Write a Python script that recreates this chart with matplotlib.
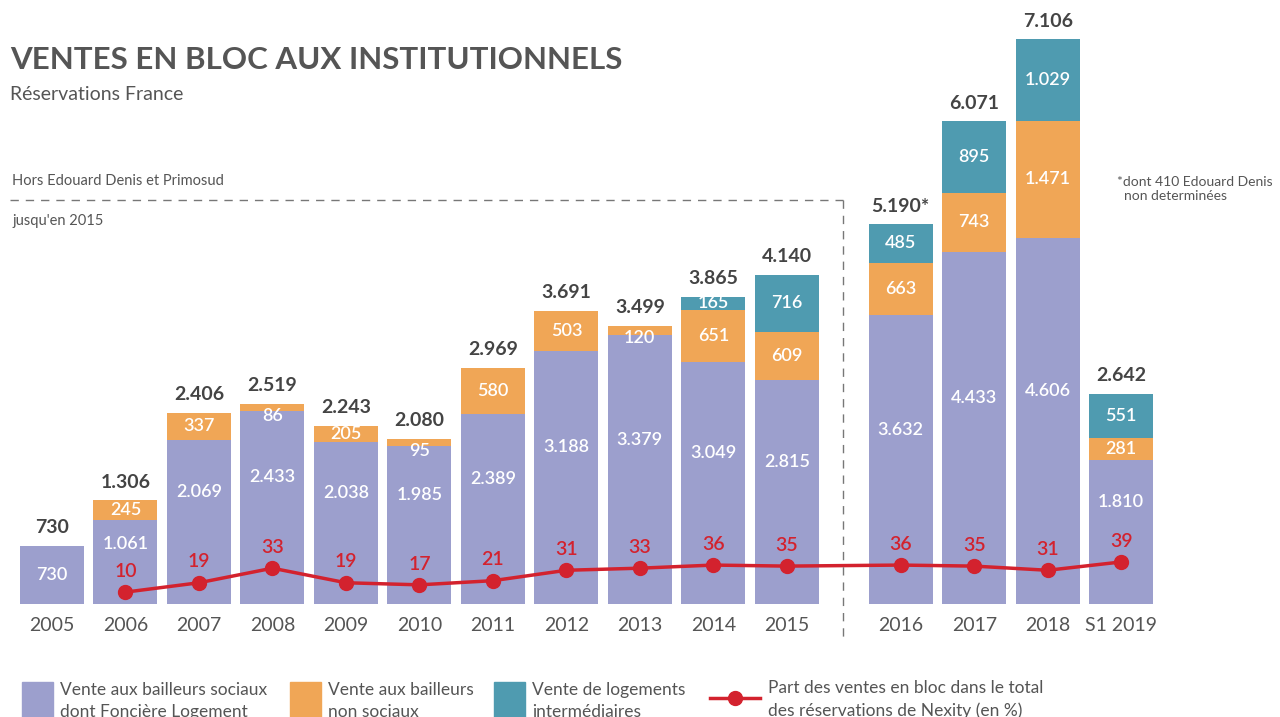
import numpy as np
import matplotlib.pyplot as plt
from matplotlib.patches import Rectangle
from matplotlib.lines import Line2D

# données
annees = ['2005', '2006', '2007', '2008', '2009', '2010', '2011', '2012', '2013',
          '2014', '2015', '2016', '2017', '2018', 'S1 2019']
sociaux = [730, 1061, 2069, 2433, 2038, 1985, 2389, 3188, 3379, 3049, 2815, 3632, 4433, 4606, 1810]
non_sociaux = [0, 245, 337, 86, 205, 95, 580, 503, 120, 651, 609, 663, 743, 1471, 281]
intermediaires = [0, 0, 0, 0, 0, 0, 0, 0, 0, 165, 716, 485, 895, 1029, 551]
totaux = ['730', '1.306', '2.406', '2.519', '2.243', '2.080', '2.969', '3.691', '3.499',
          '3.865', '4.140', '5.190*', '6.071', '7.106', '2.642']
part_pct = [None, 10, 19, 33, 19, 17, 21, 31, 33, 36, 35, 36, 35, 31, 39]

VIOLET = '#9c9fcd'
ORANGE = '#f0a656'
TEAL = '#4f9bb0'
ROUGE = '#d3222e'
GRIS = '#555555'

plt.rcParams['font.family'] = ['Lato', 'DejaVu Sans']


def fmt(v):
    return f"{v:,}".replace(",", ".")


fig = plt.figure(figsize=(12.8, 7.17), dpi=100)
ax = fig.add_axes([0, 0, 1, 1])
ax.set_xlim(-0.707, 16.71)
ax.set_ylim(-1421, 7598)
ax.axis('off')

x = np.array(list(range(11)) + [11.55, 12.55, 13.55, 14.55])
w = 0.87
soc = np.array(sociaux)
nso = np.array(non_sociaux)
inter = np.array(intermediaires)

ax.bar(x, soc, w, color=VIOLET)
ax.bar(x, nso, w, bottom=soc, color=ORANGE)
ax.bar(x, inter, w, bottom=soc + nso, color=TEAL)

px = 12.58  # unités par pixel
for i in range(len(x)):
    # bailleurs sociaux
    if i == 0:
        yl = soc[i] / 2
    elif i == 1:
        yl = 60 * px
    else:
        yl = soc[i] / 2 + 30 * px
    ax.text(x[i], yl, fmt(soc[i]), color='white', ha='center', va='center',
            fontsize=13, fontweight='semibold')
    # non sociaux
    if nso[i] > 0:
        if nso[i] / px < 12:
            yl = soc[i] + nso[i] - 12 * px
        else:
            yl = soc[i] + nso[i] / 2
        ax.text(x[i], yl, fmt(nso[i]), color='white', ha='center', va='center',
                fontsize=13, fontweight='semibold')
    if inter[i] > 0:
        ax.text(x[i], soc[i] + nso[i] + inter[i] / 2, fmt(inter[i]), color='white',
                ha='center', va='center', fontsize=13, fontweight='semibold')
    top = soc[i] + nso[i] + inter[i]
    ax.text(x[i], top + 18 * px, totaux[i], color='#444444', ha='center', va='center',
            fontsize=14, fontweight='bold')
    ax.text(x[i], -21 * px, annees[i], color=GRIS, ha='center', va='center', fontsize=14)

# courbe part des ventes en bloc
ax2 = ax.twinx()
ax2.set_ylim(-110, 579)
ax2.axis('off')
xs = x[1:]
ys = np.array(part_pct[1:])
ax2.plot(xs, ys, color=ROUGE, lw=2.5, marker='o', markersize=10, zorder=5)
for xi, yi in zip(xs, ys):
    ax2.annotate(str(yi), (xi, yi), xytext=(0, 15), textcoords='offset points',
                 ha='center', va='center', color=ROUGE, fontsize=14, fontweight='semibold')

# cadre pointillé 2005-2015
fig.add_artist(Line2D([10 / 1280, 843 / 1280], [1 - 200 / 717, 1 - 200 / 717],
                      color='#777777', lw=1, ls=(0, (6, 5))))
fig.add_artist(Line2D([843 / 1280, 843 / 1280], [1 - 200 / 717, 1 - 640 / 717],
                      color='#777777', lw=1, ls=(0, (6, 5))))
fig.text(12 / 1280, 1 - 181 / 717, 'Hors Edouard Denis et Primosud', color=GRIS,
         fontsize=10.5, va='center')
fig.text(12 / 1280, 1 - 221 / 717, "jusqu'en 2015", color=GRIS, fontsize=10.5, va='center')
fig.text(1117 / 1280, 1 - 189 / 717, '*dont 410 Edouard Denis\n  non determinées',
         color=GRIS, fontsize=10, va='center', linespacing=1.15)

# titres
fig.text(10 / 1280, 1 - 60 / 717, 'VENTES EN BLOC AUX INSTITUTIONNELS', color=GRIS,
         fontsize=22.5, fontweight='bold', va='center')
fig.text(10 / 1280, 1 - 94 / 717, 'Réservations France', color=GRIS, fontsize=14, va='center')

# légende
leg = [(22, VIOLET, 'Vente aux bailleurs sociaux\ndont Foncière Logement'),
       (290, ORANGE, 'Vente aux bailleurs\nnon sociaux'),
       (494, TEAL, 'Vente de logements\nintermédiaires')]
for lx, c, t in leg:
    fig.add_artist(Rectangle((lx / 1280, 0), 31 / 1280, 35 / 717, color=c,
                             transform=fig.transFigure))
    fig.text((lx + 38) / 1280, 1 - 682 / 717, t, color=GRIS, fontsize=12.5, va='top',
             linespacing=1.45)
fig.add_artist(Line2D([710 / 1280, 760 / 1280], [1 - 698 / 717, 1 - 698 / 717],
                      color=ROUGE, lw=2.5))
fig.add_artist(Line2D([735 / 1280], [1 - 698 / 717], color=ROUGE, marker='o',
                      markersize=10))
fig.text(768 / 1280, 1 - 680 / 717,
         'Part des ventes en bloc dans le total\ndes réservations de Nexity (en %)',
         color=GRIS, fontsize=12.5, va='top', linespacing=1.45)

fig.savefig('out.png', dpi=100)
